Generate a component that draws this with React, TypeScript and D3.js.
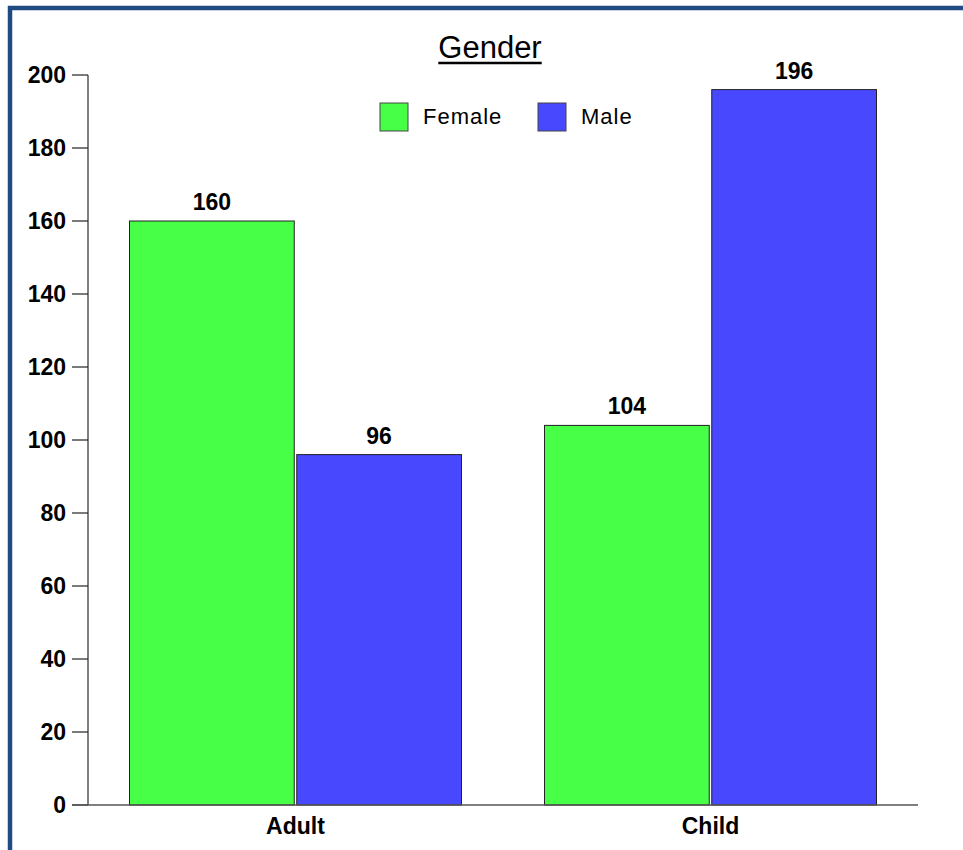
import React, { useEffect, useRef } from 'react';
import * as d3 from 'd3';

const categories = ['Adult', 'Child'];
const seriesNames = ['Female', 'Male'];
const femaleValues = [160, 104];
const maleValues = [96, 196];
const yTicks = [0, 20, 40, 60, 80, 100, 120, 140, 160, 180, 200];
const chartTitle = 'Gender';

const colors: Record<string, string> = { Female: '#48FF48', Male: '#4848FF' };

const App: React.FC = () => {
  const svgRef = useRef<SVGSVGElement | null>(null);

  useEffect(() => {
    if (!svgRef.current) return;
    const width = 963;
    const height = 850;
    const font = '"Liberation Sans", Arial, sans-serif';

    const svg = d3.select(svgRef.current);
    svg.selectAll('*').remove();

    svg.append('rect').attr('width', width).attr('height', height).attr('fill', '#fff');

    // frame (only top and left edges visible)
    svg.append('rect')
      .attr('x', 10).attr('y', 8).attr('width', width + 20).attr('height', height + 20)
      .attr('fill', 'none').attr('stroke', '#1F4B82').attr('stroke-width', 4.5);

    const x0 = d3.scaleBand().domain(categories).range([88, 918]).paddingInner(0.2).paddingOuter(0.1);
    const x1 = d3.scaleBand().domain(seriesNames).range([0, x0.bandwidth()]).paddingInner(0.015);
    const y = d3.scaleLinear().domain([0, 200]).range([805, 75]);

    const rows = categories.map((c, i) => ({ cat: c, vals: [femaleValues[i], maleValues[i]] }));

    // y axis
    svg.append('line').attr('x1', 88).attr('x2', 88).attr('y1', y(200)).attr('y2', y(0))
      .attr('stroke', '#808080').attr('stroke-width', 2);
    svg.selectAll('.ytick').data(yTicks).enter().append('line')
      .attr('x1', 72).attr('x2', 88).attr('y1', d => y(d)).attr('y2', d => y(d))
      .attr('stroke', '#222').attr('stroke-width', 1.2);
    svg.selectAll('.ylab').data(yTicks).enter().append('text')
      .attr('x', 66).attr('y', d => y(d) + 8).attr('text-anchor', 'end')
      .attr('font-family', font).attr('font-weight', 'bold').attr('font-size', 23).attr('fill', '#000')
      .text(d => d);

    // bars
    const groups = svg.selectAll('.grp').data(rows).enter().append('g')
      .attr('transform', d => `translate(${x0(d.cat)},0)`);
    groups.selectAll('rect').data(d => d.vals.map((v, i) => ({ key: seriesNames[i], v })))
      .enter().append('rect')
      .attr('x', d => x1(d.key)!).attr('width', x1.bandwidth())
      .attr('y', d => y(d.v)).attr('height', d => y(0) - y(d.v))
      .attr('fill', d => colors[d.key]).attr('stroke', '#222').attr('stroke-width', 1);
    groups.selectAll('text').data(d => d.vals.map((v, i) => ({ key: seriesNames[i], v })))
      .enter().append('text')
      .attr('x', d => x1(d.key)! + x1.bandwidth() / 2).attr('y', d => y(d.v) - 11)
      .attr('text-anchor', 'middle').attr('font-family', font).attr('font-weight', 'bold')
      .attr('font-size', 23).attr('fill', '#000').text(d => d.v);

    // x axis
    svg.append('line').attr('x1', 72).attr('x2', 918).attr('y1', y(0)).attr('y2', y(0))
      .attr('stroke', '#555').attr('stroke-width', 1.5);
    svg.selectAll('.xlab').data(categories).enter().append('text')
      .attr('x', d => x0(d)! + x0.bandwidth() / 2).attr('y', 834)
      .attr('text-anchor', 'middle').attr('font-family', font).attr('font-weight', 'bold')
      .attr('font-size', 23).attr('fill', '#000').text(d => d);

    // title
    const title = svg.append('text').attr('x', 490).attr('y', 58).attr('text-anchor', 'middle')
      .attr('font-family', font).attr('font-size', 31).attr('fill', '#000').text(chartTitle);
    const tw = (title.node() as SVGTextElement).getComputedTextLength();
    svg.append('line').attr('x1', 490 - tw / 2).attr('x2', 490 + tw / 2).attr('y1', 63).attr('y2', 63)
      .attr('stroke', '#000').attr('stroke-width', 2.5);

    // legend
    const legendX = [380, 538];
    seriesNames.forEach((s, i) => {
      svg.append('rect').attr('x', legendX[i]).attr('y', 103).attr('width', 28).attr('height', 28)
        .attr('fill', colors[s]).attr('stroke', '#444').attr('stroke-width', 1);
      svg.append('text').attr('x', legendX[i] + 43).attr('y', 124)
        .attr('font-family', font).attr('font-size', 22).attr('letter-spacing', 1).attr('fill', '#000').text(s);
    });
  }, []);

  return (
    <svg ref={svgRef} width={963} height={850} style={{ position: 'absolute', left: 0, top: 0 }} />
  );
};

export default App;
